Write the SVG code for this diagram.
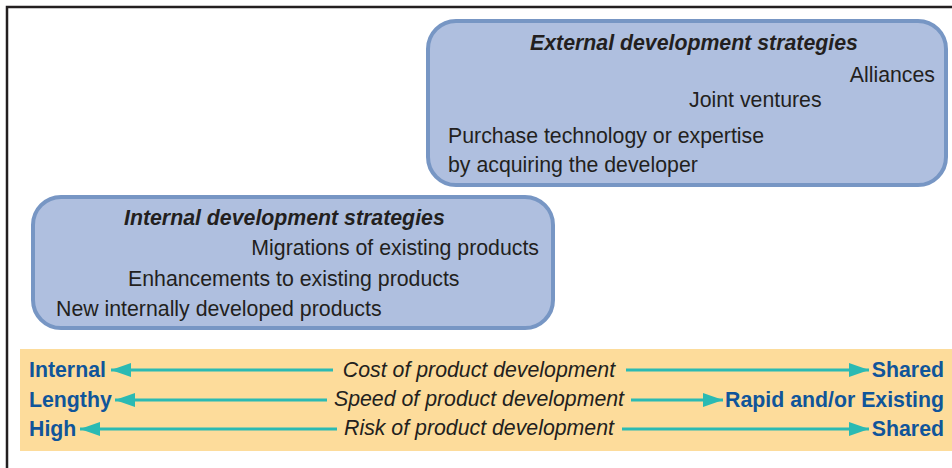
<svg xmlns="http://www.w3.org/2000/svg" width="952" height="468" viewBox="0 0 952 468">
<defs>
<style>
.box{fill:#afbfdf;stroke:#7796c4;stroke-width:4}
.t{font-family:"Liberation Sans",Arial,sans-serif;font-size:21.3px;fill:#231f20}
.h{font-weight:bold;font-style:italic}
.i{font-style:italic}
.b{font-family:"Liberation Sans",Arial,sans-serif;font-size:21.3px;font-weight:bold;fill:#10559a}
.ar{stroke:#2bbab3;stroke-width:3;fill:none;marker-end:url(#ah)}
</style>
<marker id="ah" markerUnits="userSpaceOnUse" markerWidth="22" markerHeight="16" refX="20" refY="7" orient="auto">
<path d="M0,0 L20,7 L0,14 Z" fill="#2bbab3"/>
</marker>
</defs>
<rect width="952" height="468" fill="#ffffff"/>
<path d="M7,468 V7 H952" fill="none" stroke="#231f20" stroke-width="2.5"/>
<g id="external">
<rect class="box" x="428" y="21" width="518" height="164" rx="28"/>
<text class="t h" x="530" y="50">External development strategies</text>
<text class="t" x="935" y="82" text-anchor="end">Alliances</text>
<text class="t" x="689" y="107">Joint ventures</text>
<text class="t" x="448" y="143">Purchase technology or expertise</text>
<text class="t" x="448" y="172">by acquiring the developer</text>
</g>
<g id="internal">
<rect class="box" x="33" y="197" width="520" height="131" rx="28"/>
<text class="t h" x="124" y="225">Internal development strategies</text>
<text class="t" x="539" y="255" text-anchor="end">Migrations of existing products</text>
<text class="t" x="128" y="286">Enhancements to existing products</text>
<text class="t" x="56" y="316">New internally developed products</text>
</g>
<g id="scale">
<rect x="20" y="349" width="932" height="102" fill="#fddc9b"/>
<text class="b" x="29" y="377">Internal</text>
<text class="b" x="29" y="407">Lengthy</text>
<text class="b" x="29" y="436">High</text>
<text class="b" x="944" y="377" text-anchor="end">Shared</text>
<text class="b" x="944" y="407" text-anchor="end">Rapid and/or Existing</text>
<text class="b" x="944" y="436" text-anchor="end">Shared</text>
<text class="t i" x="479" y="377" text-anchor="middle">Cost of product development</text>
<text class="t i" x="479" y="406" text-anchor="middle">Speed of product development</text>
<text class="t i" x="479" y="435" text-anchor="middle">Risk of product development</text>
</g>
<g id="connectors">
<line class="ar" x1="333" y1="370" x2="111" y2="370"/>
<line class="ar" x1="626" y1="370" x2="869" y2="370"/>
<line class="ar" x1="327" y1="400" x2="115" y2="400"/>
<line class="ar" x1="631" y1="400" x2="723" y2="400"/>
<line class="ar" x1="337" y1="429" x2="80" y2="429"/>
<line class="ar" x1="622" y1="429" x2="869" y2="429"/>
</g>
</svg>
